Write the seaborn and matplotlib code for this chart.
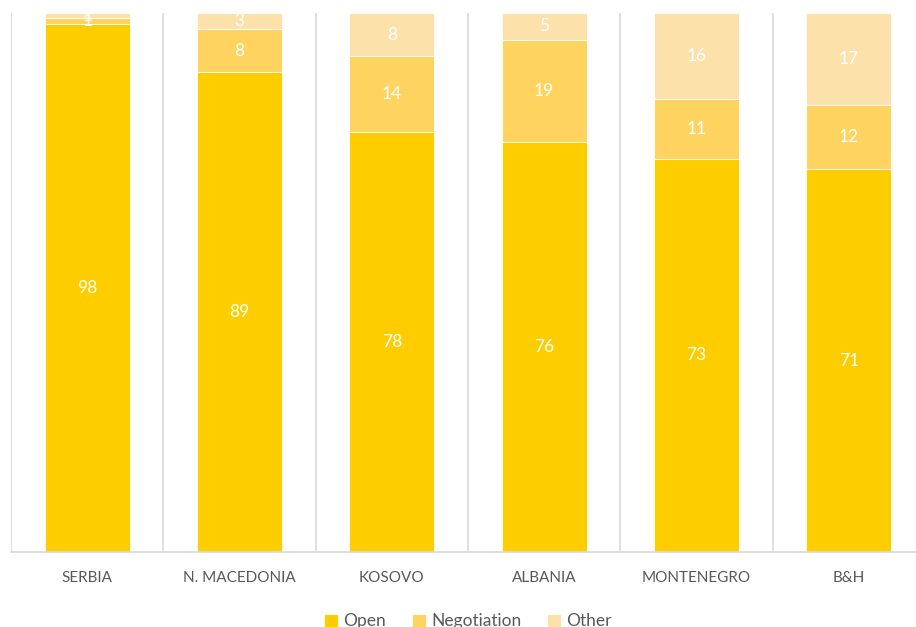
import numpy as np
import pandas as pd
import matplotlib
matplotlib.use('Agg')
import matplotlib.pyplot as plt
import seaborn as sns

# data (percent)
countries = ['SERBIA', 'N. MACEDONIA', 'KOSOVO', 'ALBANIA', 'MONTENEGRO', 'B&H']
open_vals = [98, 89, 78, 76, 73, 71]
negotiation_vals = [1, 8, 14, 19, 11, 12]
other_vals = [1, 3, 8, 5, 16, 17]

series_names = ['Open', 'Negotiation', 'Other']
colors = ['#FDCD00', '#FED35F', '#FDE1AB']

sns.set_style('white')
plt.rcParams['font.family'] = ['Lato', 'DejaVu Sans']

fig = plt.figure(figsize=(9.16, 6.27), dpi=100)
ax = fig.add_axes([11/916, 75/627, 914/916, 539/627])

df = pd.DataFrame({'Land': countries, 'Open': open_vals,
                   'Negotiation': negotiation_vals, 'Other': other_vals})

bottom = np.zeros(len(countries))
for name, col in zip(series_names, colors):
    sns.barplot(data=df, x='Land', y=name, color=col, bottom=bottom, width=0.56,
                ax=ax, label=name, edgecolor='white', linewidth=0.6, saturation=1)
    vals = df[name].values
    for i, v in enumerate(vals):
        ax.text(i, bottom[i] + v / 2, str(v), ha='center', va='center',
                color='white', fontsize=12.5)
    bottom = bottom + vals

ax.set_ylim(0, 100)
ax.set_xlim(-0.5, len(countries) - 0.5)
ax.set_yticks([])
ax.set_xlabel('')
ax.set_ylabel('')

# vertical separators between categories
for b in np.arange(-0.5, len(countries), 1.0):
    ax.axvline(b, color='#D9D9D9', lw=1.2, zorder=0)

for s in ['top', 'right', 'left']:
    ax.spines[s].set_visible(False)
ax.spines['bottom'].set_color('#D9D9D9')
ax.spines['bottom'].set_linewidth(1.2)

ax.tick_params(axis='x', length=0, pad=14, labelsize=11, labelcolor='#595959')

ax.legend(loc='upper center', bbox_to_anchor=(0.5, -0.085), ncol=3, frameon=False,
          fontsize=12.5, labelcolor='#595959', handlelength=0.8, handleheight=0.8,
          handletextpad=0.3, columnspacing=1.5)

fig.savefig('out.png', dpi=100)
